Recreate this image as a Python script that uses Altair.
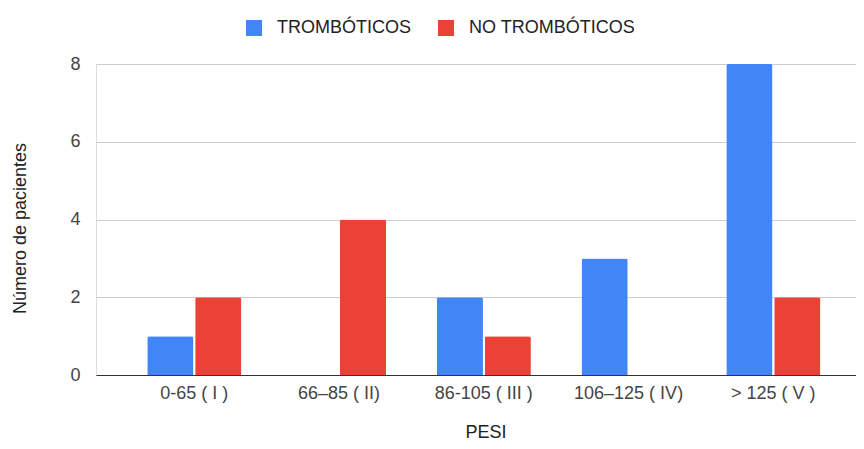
import altair as alt
import pandas as pd

categorias = ["0-65 ( I )", "66–85 ( II)", "86-105 ( III )", "106–125 ( IV)", "> 125 ( V )"]
series = ["TROMBÓTICOS", "NO TROMBÓTICOS"]
tromboticos = [1, 0, 2, 3, 8]
no_tromboticos = [2, 4, 1, 0, 2]
colores = ["#4285F4", "#EA4335"]
y_ticks = [0, 2, 4, 6, 8]

rows = []
for c, a, b in zip(categorias, tromboticos, no_tromboticos):
    rows.append({"PESI": c, "serie": series[0], "valor": a})
    rows.append({"PESI": c, "serie": series[1], "valor": b})
df = pd.DataFrame(rows)

FONT = "Liberation Sans"

chart = alt.Chart(df).mark_bar(
    cornerRadiusTopLeft=2, cornerRadiusTopRight=2
).encode(
    x=alt.X(
        "PESI:N",
        sort=categorias,
        scale=alt.Scale(paddingInner=0.35, paddingOuter=0.3, align=0.59),
        axis=alt.Axis(
            title="PESI",
            labelAngle=0,
            labelFontSize=18,
            labelColor="#444444",
            labelFont=FONT,
            labelPadding=9,
            labelLimit=0,
            ticks=False,
            tickSize=0,
            domainColor="#333333",
            domainWidth=1.2,
            titleFontSize=18,
            titleFontWeight="normal",
            titleColor="#222222",
            titleFont=FONT,
            titleX=389.5,
            titleY=62,
            titleBaseline="alphabetic",
            titleAlign="center",
        ),
    ),
    xOffset=alt.XOffset("serie:N", sort=series, scale=alt.Scale(paddingInner=0.036, paddingOuter=0)),
    y=alt.Y(
        "valor:Q",
        scale=alt.Scale(domain=[0, 8], nice=False),
        axis=alt.Axis(
            title="Número de pacientes",
            values=y_ticks,
            labelFontSize=18,
            labelColor="#444444",
            labelFont=FONT,
            labelPadding=16,
            ticks=False,
            tickSize=0,
            domain=False,
            grid=True,
            gridColor="#cccccc",
            gridWidth=1,
            titleFontSize=18,
            titleFontWeight="normal",
            titleColor="#222222",
            titleFont=FONT,
            titleAngle=-90,
            titleX=-71,
            titleY=164,
            titleAlign="center",
            titleBaseline="alphabetic",
        ),
    ),
    color=alt.Color(
        "serie:N",
        sort=series,
        scale=alt.Scale(domain=series, range=colores),
        legend=alt.Legend(
            title=None,
            orient="none",
            direction="horizontal",
            legendX=149,
            legendY=-45,
            symbolType="square",
            symbolSize=256,
            symbolStrokeWidth=0,
            labelFontSize=18,
            labelColor="#222222",
            labelFont=FONT,
            labelOffset=14,
            labelLimit=0,
            columnPadding=26,
            padding=0,
        ),
    ),
).properties(
    width=760,
    height=311,
    autosize=alt.AutoSizeParams(type="none"),
    padding={"left": 88, "top": 56, "right": 0, "bottom": 66},
).configure_view(
    stroke=None
).configure(
    font=FONT,
    background="white",
)

chart.save("out.html", embed_options={"renderer": "svg", "actions": False})
